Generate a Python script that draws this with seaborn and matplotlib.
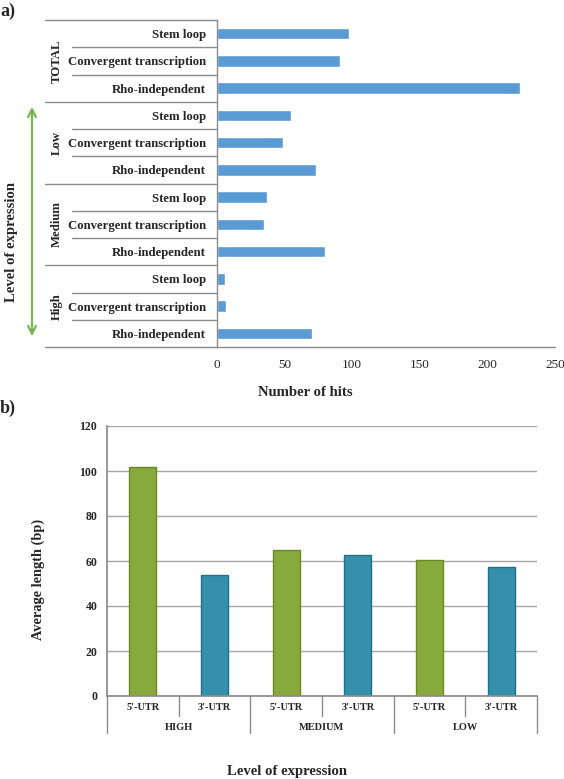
import numpy as np
import pandas as pd
import matplotlib
matplotlib.use("Agg")
import matplotlib.pyplot as plt
import seaborn as sns
from matplotlib.lines import Line2D
from matplotlib.patches import FancyArrowPatch
from matplotlib.transforms import blended_transform_factory

# panel a: terminator hits per expression level
groups = ["TOTAL", "Low", "Medium", "High"]
terminators = ["Stem loop", "Convergent transcription", "Rho-independent"]
hits = [98, 91, 224, 55, 49, 73, 37, 35, 80, 6, 7, 70]

# panel b: average UTR length
levels = ["HIGH", "MEDIUM", "LOW"]
utrs = ["5'-UTR", "3'-UTR"]
avg_length = [102, 54, 65, 62.5, 60.5, 57.5]

sns.set_theme(style="white")
plt.rcParams["font.family"] = ["Liberation Serif", "DejaVu Serif"]

W, H = 564, 779
fig = plt.figure(figsize=(W / 100, H / 100), dpi=100)


def fx(px):
    return px / W


def fy(py):
    return 1 - py / H


grey = "#8C8C8C"

# ---------------- panel a ----------------
df_a = pd.DataFrame({
    "group": np.repeat(groups, len(terminators)),
    "term": terminators * len(groups),
    "hits": hits,
})
df_a["row"] = df_a["group"] + " / " + df_a["term"]

ax1 = fig.add_axes([fx(217), fy(347), fx(555) - fx(217), fy(20) - fy(347)])
sns.barplot(data=df_a, y="row", x="hits", orient="h", color="#5B9BD5",
            saturation=1, width=0.42, ax=ax1)
ax1.set_xlim(0, 250)
ax1.set_ylim(len(df_a) - 0.5, -0.5)
ax1.set_yticks(range(len(df_a)))
ax1.set_yticklabels(df_a["term"], fontsize=9.2, fontweight="bold")
ax1.tick_params(axis="y", length=0, pad=8)
ax1.tick_params(axis="x", labelsize=9.5, length=4, color=grey, direction="out", pad=5)
ax1.set_xticks([0, 50, 100, 150, 200, 250])
ax1.set_xlabel("")
ax1.set_ylabel("")
for s in ["top", "right"]:
    ax1.spines[s].set_visible(False)
for s in ["left", "bottom"]:
    ax1.spines[s].set_color(grey)
    ax1.spines[s].set_linewidth(1)

# table lines and group labels on the left
tr = blended_transform_factory(fig.transFigure, ax1.transData)
for i in range(len(df_a) + 1):
    x0 = fx(45) if i % 3 == 0 else fx(72)
    fig.add_artist(Line2D([x0, fx(217)], [i - 0.5, i - 0.5], transform=tr,
                          color=grey, lw=1))
for g, name in enumerate(groups):
    fig.text(fx(57), 3 * g + 1, name, transform=tr, rotation=90,
             ha="center", va="center", fontsize=9.2, fontweight="bold")

fig.add_artist(FancyArrowPatch((fx(32), fy(339)), (fx(32), fy(104)),
                               transform=fig.transFigure, arrowstyle="<->",
                               mutation_scale=14, color="#77B552", lw=1.6))
fig.text(fx(12), fy(242), "Level of expression", rotation=90, ha="center",
         va="center", fontsize=10.6, fontweight="bold")
fig.text(fx(305), fy(392), "Number of hits", ha="center", va="center",
         fontsize=10.6, fontweight="bold")
fig.text(0.0, fy(11), "a)", ha="left", va="center", fontsize=13, fontweight="bold")

# ---------------- panel b ----------------
df_b = pd.DataFrame({
    "level": np.repeat(levels, len(utrs)),
    "utr": utrs * len(levels),
    "length": avg_length,
})
df_b["col"] = df_b["level"] + " " + df_b["utr"]

ax2 = fig.add_axes([fx(107), fy(696), fx(537) - fx(107), fy(426) - fy(696)])
pal = {"5'-UTR": "#88A93C", "3'-UTR": "#3490AB"}
edges = {"5'-UTR": "#6A8A28", "3'-UTR": "#236F87"}
sns.barplot(data=df_b, x="col", y="length", hue="utr", palette=pal, dodge=False,
            saturation=1, width=0.38, legend=False, ax=ax2)
for bar, u in zip(ax2.patches, [u for u in utrs for _ in levels]):
    bar.set_edgecolor(edges[u])
    bar.set_linewidth(1)
ax2.set_ylim(0, 120)
ax2.set_xlim(-0.5, len(df_b) - 0.5)
ax2.set_yticks(range(0, 121, 20))
ax2.yaxis.grid(True, color="#A6A6A6", lw=1)
ax2.set_axisbelow(True)
ax2.tick_params(axis="y", labelsize=8.5, length=3, color=grey, pad=4)
for lab in ax2.get_yticklabels():
    lab.set_fontweight("bold")
ax2.set_xticks(range(len(df_b)))
ax2.set_xticklabels([])
ax2.tick_params(axis="x", length=0)
ax2.set_xlabel("")
ax2.set_ylabel("")
for s in ["top", "right"]:
    ax2.spines[s].set_visible(False)
for s in ["left", "bottom"]:
    ax2.spines[s].set_color(grey)

xt = ax2.get_xaxis_transform()
for i, u in enumerate(df_b["utr"]):
    ax2.text(i, -11 / 270, u, transform=xt, ha="center", va="center",
             fontsize=7.5, fontweight="bold")
for j, lv in enumerate(levels):
    ax2.text(2 * j + 0.5, -31 / 270, lv, transform=xt, ha="center", va="center",
             fontsize=7.5, fontweight="bold")
for k in range(len(df_b) + 1):
    y1 = -37 / 270 if k % 2 == 0 else -20 / 270
    ax2.plot([k - 0.5, k - 0.5], [0, y1], transform=xt, color=grey, lw=1,
             clip_on=False)

fig.text(fx(38), fy(579), "Average length (bp)", rotation=90, ha="center",
         va="center", fontsize=10.4, fontweight="bold")
fig.text(fx(287), fy(772), "Level of expression", ha="center", va="center",
         fontsize=10.6, fontweight="bold")
fig.text(0.0, fy(408), "b)", ha="left", va="center", fontsize=13, fontweight="bold")

fig.savefig("out.png", dpi=100, facecolor="white")
